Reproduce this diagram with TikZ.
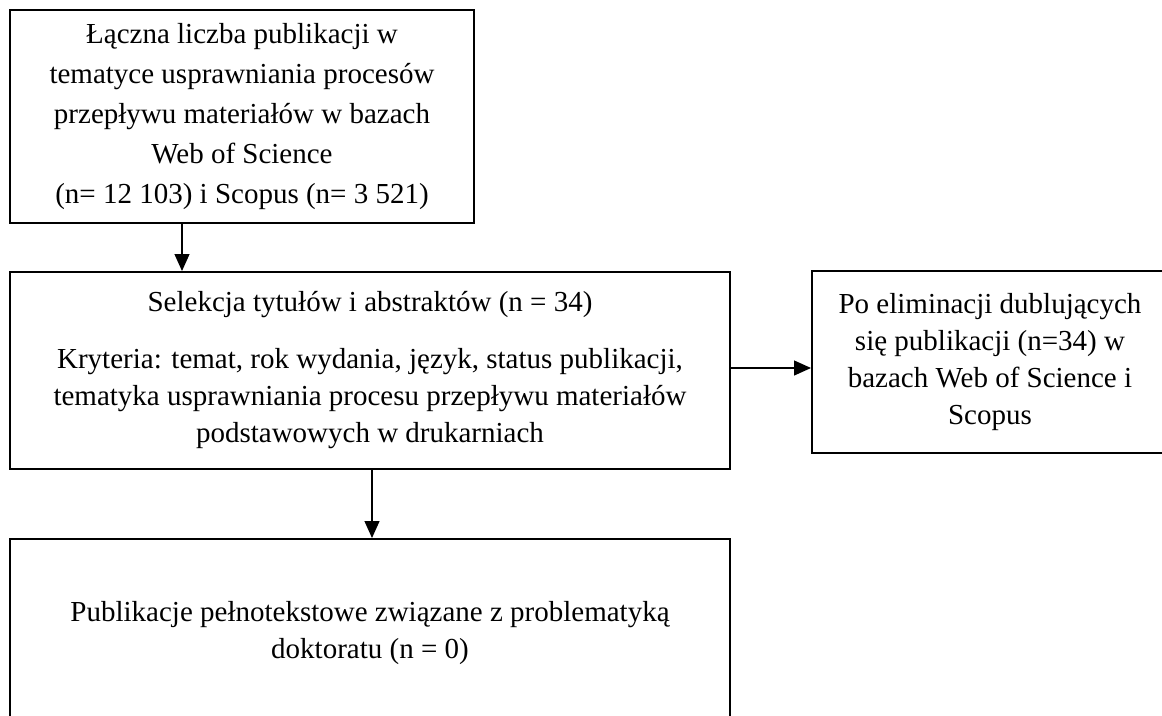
\documentclass[tikz,border=0pt]{standalone}
\usepackage{fontspec}
\setmainfont{Liberation Serif}
\usetikzlibrary{arrows.meta}
\begin{document}
\begin{tikzpicture}[x=1pt,y=-1pt,
  box/.style={draw,line width=2pt,rectangle,inner sep=0pt,align=center,
    font=\fontsize{29}{37}\selectfont},
  arr/.style={line width=1.3pt,-{Triangle[length=17pt,width=15pt]}}]
\useasboundingbox (0,0) rectangle (1162,715);
\clip (0,0) rectangle (1162,715);

% flow boxes
\node[box,minimum width=464pt,minimum height=213pt,
      font=\fontsize{29}{40}\selectfont] (total) at (242,116.5)
  {Łączna liczba publikacji w\\tematyce usprawniania procesów\\przepływu materiałów w bazach\\Web of Science\\(n= 12 103) i Scopus (n= 3 521)};

\node[box,minimum width=720pt,minimum height=197pt] (selection) at (370,370.5)
  {Selekcja tytułów i abstraktów (n = 34)\\[20pt]Kryteria: temat, rok wydania, język, status publikacji,\\tematyka usprawniania procesu przepływu materiałów\\podstawowych w drukarniach};

\node[box,minimum width=356pt,minimum height=182pt] (duplicates) at (990,362)
  {Po eliminacji dublujących\\się publikacji (n=34) w\\bazach Web of Science i\\Scopus};

\node[box,minimum width=720pt,minimum height=189pt] (fulltext) at (370,633.5)
  {Publikacje pełnotekstowe związane z problematyką\\doktoratu (n = 0)};

% connectors
\draw[arr] ([xshift=-60pt]total.south) -- ([xshift=-60pt]total.south |- selection.north);
\draw[arr] ([yshift=2.5pt]selection.east) -- ([yshift=2.5pt]selection.east -| duplicates.west);
\draw[arr] ([xshift=2pt]selection.south) -- ([xshift=2pt]selection.south |- fulltext.north);
\end{tikzpicture}
\end{document}
